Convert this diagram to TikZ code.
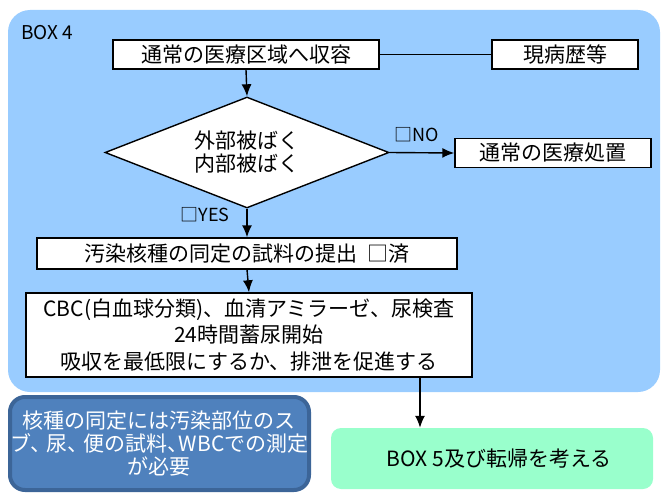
\documentclass[tikz,border=0pt]{standalone}
\usepackage{fontspec}
\setmainfont{Noto Sans CJK JP}
\usetikzlibrary{positioning, shapes.geometric, arrows.meta}
\definecolor{boxfour}{HTML}{99CCFF}
\definecolor{notefill}{HTML}{4F81BD}
\definecolor{noteline}{HTML}{3C6598}
\definecolor{boxfive}{HTML}{99FFCC}

\begin{document}
\begin{tikzpicture}[x=1pt, y=-1pt, >={Latex[length=12pt,width=10pt]},
  every node/.style={font=\fontsize{21}{26}\selectfont, inner sep=0pt},
  stepbox/.style={draw, line width=1.4pt, fill=white, minimum height=29},
  flow/.style={->, line width=1.4pt}]
  \useasboundingbox (0,0) rectangle (667,495);
  \node [fill=boxfour, rounded corners=22, minimum width=652, minimum height=382] (frame) at (334,201) {};
  \node at (21,33) [anchor=west, font=\fontsize{19}{23}\selectfont] (framelabel) {BOX 4};
  \node [stepbox, minimum width=266] (recv) at (246,54.5) {通常の医療区域へ収容};
  \node [stepbox, minimum width=146] (hist) at (565,54.5) {現病歴等};
  \node [diamond, draw, line width=1.4pt, fill=white, aspect=2.56, minimum width=284, minimum height=111, align=center,
    font=\fontsize{21}{23}\selectfont] (expo) at (247,152.5) {外部被ばく\\内部被ばく};
  \node [stepbox, minimum width=196] (treat) at (553,153) {通常の医療処置};
  \node [stepbox, minimum width=420, minimum height=31] (sample) at (247,253.5) {汚染核種の同定の試料の提出\ \ □済};
  \node [stepbox, minimum width=446, minimum height=84, align=center, font=\fontsize{21}{26.5}\selectfont] (exam) at (249,335)
    {CBC(白血球分類)、血清アミラーゼ、尿検査\\24時間蓄尿開始\\吸収を最低限にするか、排泄を促進する};
  \node [fill=notefill, draw=noteline, line width=4pt, rounded corners=15, minimum width=299, minimum height=93,
    align=center, text=white, font=\fontsize{21}{23}\selectfont] (note) at (159.5,443.5)
    {核種の同定には汚染部位のス\\ブ、\kern-5pt 尿、\kern-5pt 便の試料、\kern-10pt WBCでの測定\\が必要};
  \node [fill=boxfive, rounded corners=10, minimum width=322, minimum height=61] (boxfive) at (492,458.5) {\ \ \ BOX 5及び転帰を考える};
  \node at (417,135) [font=\fontsize{18}{22}\selectfont] (nolabel) {□NO};
  \node at (205,215) [font=\fontsize{18}{22}\selectfont] (yeslabel) {□YES};
  \coordinate (drop) at (420,0);
  \draw [line width=1.4pt] (recv.east) -- (hist.west);
  \draw [flow] (recv.south) -- (expo.north);
  \draw [flow] (expo.east) -- (treat.west);
  \draw [flow] (expo.south) -- (sample.north);
  \draw [flow] (sample.south) -- (exam.north);
  \draw [flow] (exam.south -| drop) -- (boxfive.north -| drop);
\end{tikzpicture}
\end{document}
